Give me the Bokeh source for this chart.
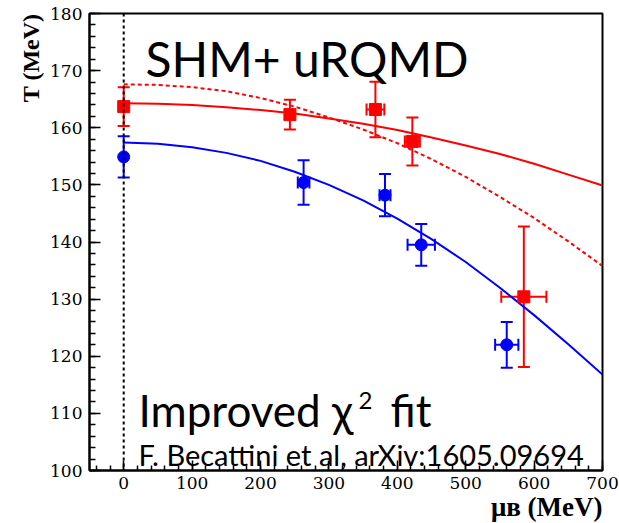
from bokeh.plotting import figure
from bokeh.models import ColumnDataSource, Whisker, TeeHead, Label, SingleIntervalTicker, Span, Title
from bokeh.embed import file_html
from bokeh.resources import INLINE

# ---- data ----
mu_curve = [0, 50, 100, 150, 200, 250, 300, 350, 400, 450, 500, 550, 600, 650, 700]
red_solid = [164.3, 164.2, 164.0, 163.6, 163.1, 162.5, 161.6, 160.7, 159.6, 158.3, 156.9, 155.4, 153.7, 151.8, 149.9]
red_dashed = [167.6, 167.5, 167.1, 166.4, 165.2, 163.7, 161.8, 159.7, 157.3, 154.5, 151.4, 147.9, 144.2, 140.1, 135.8]
blue_curve = [157.4, 157.2, 156.6, 155.6, 154.2, 152.3, 150.0, 147.3, 144.1, 140.5, 136.5, 132.0, 127.2, 122.1, 116.8]

red_mu = [0, 243, 368, 422, 585]
red_T = [163.7, 162.3, 163.2, 157.6, 130.4]
red_Terr = [3.4, 2.6, 4.85, 4.2, 12.3]
red_muerr = [0, 0, 13, 11, 33]

blue_mu = [0, 263, 382, 435, 560]
blue_T = [154.9, 150.4, 148.2, 139.5, 122.0]
blue_Terr = [3.6, 3.9, 3.7, 3.65, 4.0]
blue_muerr = [0, 8.5, 8, 20, 17]

title_text = "SHM+ uRQMD"
fit_text_a = "Improved \u03c7"
fit_text_sup = "2"
fit_text_b = "fit"
cite_text = "F. Becattini et al, arXiv:1605.09694"
y_label = "T (MeV)"
x_label = "\u03bc\u0299 (MeV)"

RED = "#ff0000"
BLUE = "#0000ff"

p = figure(width=619, height=523, x_range=(-50, 700), y_range=(100, 180),
           output_backend="svg", toolbar_location=None,
           min_border_left=89, min_border_right=17, min_border_top=13, min_border_bottom=53)
p.background_fill_color = "white"
p.border_fill_color = "white"
p.xgrid.visible = False
p.ygrid.visible = False
p.outline_line_color = "black"
p.outline_line_width = 2
p.outline_line_alpha = 1

p.xaxis.ticker = SingleIntervalTicker(interval=100, num_minor_ticks=5)
p.yaxis.ticker = SingleIntervalTicker(interval=10, num_minor_ticks=5)
for ax in (p.xaxis[0], p.yaxis[0]):
    ax.axis_line_width = 2
    ax.axis_line_color = "black"
    ax.major_tick_out = 0
    ax.minor_tick_out = 0
    ax.major_tick_line_width = 1.5
    ax.minor_tick_line_width = 1.5
    ax.major_tick_line_color = "black"
    ax.minor_tick_line_color = "black"
    ax.major_label_text_font = "DejaVu Serif"
    ax.major_label_text_font_size = "17px"
    ax.major_label_text_color = "black"
p.yaxis.major_tick_in = 11
p.yaxis.minor_tick_in = 6
p.xaxis.major_tick_in = 10
p.xaxis.minor_tick_in = 5
p.yaxis.major_label_standoff = 7
p.xaxis.major_label_standoff = 6

# axis titles as side-panel titles (aligned to the far ends like the reference)
p.add_layout(Title(text=y_label, align="right", text_font="Liberation Serif",
                   text_font_style="bold", text_font_size="24px", text_color="black",
                   standoff=8), "left")
xt = Title(text=x_label, align="right", text_font="Liberation Serif",
           text_font_style="bold", text_font_size="27px", text_color="black", standoff=0)
try:
    xt.standoff = -4
except Exception:
    xt.text_font_size = "25px"
p.add_layout(xt, "below")

p.add_layout(Span(location=0, dimension="height", line_color="black",
                  line_width=2, line_dash="3 3"))

# curves
p.line(mu_curve, red_solid, line_color=RED, line_width=2)
p.line(mu_curve, red_dashed, line_color=RED, line_width=2, line_dash="4 3")
p.line(mu_curve, blue_curve, line_color=BLUE, line_width=2)


def add_errors(mu, T, Terr, muerr, color):
    src_v = ColumnDataSource(dict(x=mu, lo=[t - e for t, e in zip(T, Terr)],
                                  hi=[t + e for t, e in zip(T, Terr)]))
    p.add_layout(Whisker(source=src_v, base="x", lower="lo", upper="hi", dimension="height",
                         line_color=color, line_width=2,
                         upper_head=TeeHead(size=12, line_color=color, line_width=2),
                         lower_head=TeeHead(size=12, line_color=color, line_width=2)))
    idx = [i for i, e in enumerate(muerr) if e > 0]
    src_h = ColumnDataSource(dict(y=[T[i] for i in idx],
                                  lo=[mu[i] - muerr[i] for i in idx],
                                  hi=[mu[i] + muerr[i] for i in idx]))
    p.add_layout(Whisker(source=src_h, base="y", lower="lo", upper="hi", dimension="width",
                         line_color=color, line_width=2,
                         upper_head=TeeHead(size=12, line_color=color, line_width=2),
                         lower_head=TeeHead(size=12, line_color=color, line_width=2)))


add_errors(red_mu, red_T, red_Terr, red_muerr, RED)
add_errors(blue_mu, blue_T, blue_Terr, blue_muerr, BLUE)

p.scatter(red_mu, red_T, marker="square", size=12, fill_color=RED, line_color=RED)
p.scatter(blue_mu, blue_T, marker="circle", size=12, fill_color=BLUE, line_color=BLUE)

# texts inside the frame
p.add_layout(Label(x=31.9, y=172.15, text=title_text, text_font="Lato", text_font_size="48px",
                   text_color="black", text_baseline="alphabetic", text_align="left"))
p.add_layout(Label(x=21.6, y=110.6, text=fit_text_a, text_font="Lato", text_font_size="44px",
                   text_color="black", text_baseline="alphabetic", text_align="left"))
p.add_layout(Label(x=343.3, y=112.3, text=fit_text_sup, text_font="Lato", text_font_size="24px",
                   text_color="black", text_baseline="alphabetic", text_align="left"))
p.add_layout(Label(x=390.0, y=110.6, text=fit_text_b, text_font="Lato", text_font_size="44px",
                   text_color="black", text_baseline="alphabetic", text_align="left"))
p.add_layout(Label(x=21.6, y=102.75, text=cite_text, text_font="Lato", text_font_size="29px",
                   text_color="black", text_baseline="alphabetic", text_align="left"))

open("out.html", "w").write(file_html(p, INLINE))
